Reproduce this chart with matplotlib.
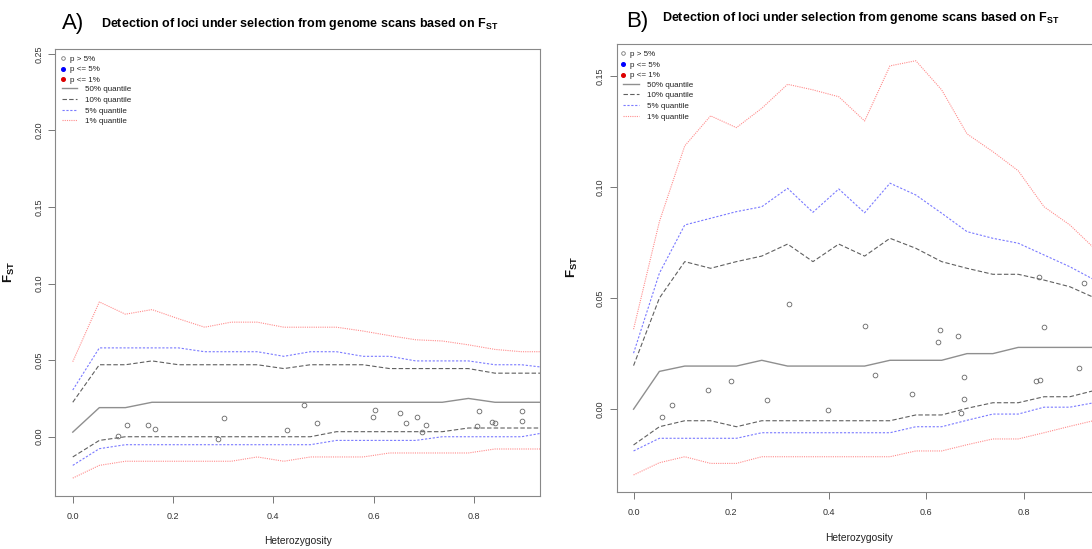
import matplotlib
matplotlib.use("Agg")
from matplotlib import pyplot as plt
from matplotlib.lines import Line2D

plt.rcParams['font.family'] = ['Liberation Sans', 'DejaVu Sans']
plt.rcParams['mathtext.fontset'] = 'custom'
plt.rcParams['mathtext.rm'] = 'Liberation Sans'
plt.rcParams['mathtext.bf'] = 'Liberation Sans:bold'

# heterozygosity bins used for the quantile curves
het_bins = [0.000, 0.053, 0.105, 0.158, 0.211, 0.263, 0.316, 0.368, 0.421, 0.474,
            0.526, 0.579, 0.632, 0.684, 0.737, 0.789, 0.842, 0.895, 0.947]

# --- scan A ---
a_q50 = [0.003, 0.019, 0.019, 0.0225, 0.0225, 0.0225, 0.0225, 0.0225, 0.0225, 0.0225,
         0.0225, 0.0225, 0.0225, 0.0225, 0.0225, 0.025, 0.0225, 0.0225, 0.0225]
a_q10_up = [0.0225, 0.047, 0.047, 0.0495, 0.047, 0.047, 0.047, 0.047, 0.0445, 0.047,
            0.047, 0.047, 0.0445, 0.0445, 0.0445, 0.0445, 0.0415, 0.0415, 0.0415]
a_q10_lo = [-0.0132, -0.0024, 0.0, 0.0, 0.0, 0.0, 0.0, 0.0, 0.0, 0.0,
            0.0033, 0.0033, 0.0033, 0.0033, 0.0033, 0.0057, 0.0057, 0.0057, 0.0057]
a_q05_up = [0.0305, 0.058, 0.058, 0.058, 0.058, 0.0555, 0.0555, 0.0555, 0.0525, 0.0555,
            0.0555, 0.0525, 0.0525, 0.0495, 0.0495, 0.0495, 0.047, 0.047, 0.045]
a_q05_lo = [-0.0187, -0.0078, -0.0052, -0.0052, -0.0052, -0.0052, -0.0052, -0.0052, -0.0052, -0.0052,
            -0.0024, -0.0024, -0.0024, -0.0024, 0.0, 0.0, 0.0, 0.0, 0.003]
a_q01_up = [0.049, 0.088, 0.080, 0.083, 0.077, 0.0715, 0.0748, 0.0748, 0.0715, 0.0715,
            0.0715, 0.069, 0.066, 0.0633, 0.0625, 0.060, 0.057, 0.0555, 0.0555]
a_q01_lo = [-0.027, -0.0187, -0.016, -0.016, -0.016, -0.016, -0.016, -0.0132, -0.016, -0.0132,
            -0.0132, -0.0132, -0.0106, -0.0106, -0.0106, -0.0106, -0.008, -0.008, -0.008]
a_het = [0.090, 0.108, 0.151, 0.165, 0.289, 0.301, 0.428, 0.461, 0.488, 0.603, 0.599,
         0.653, 0.664, 0.686, 0.704, 0.696, 0.810, 0.806, 0.837, 0.842, 0.895, 0.895]
a_fst = [0.0005, 0.0078, 0.0078, 0.0052, -0.0013, 0.012, 0.0044, 0.0205, 0.0091, 0.0172, 0.0127,
         0.0153, 0.0091, 0.0127, 0.0078, 0.0029, 0.0168, 0.007, 0.0098, 0.0089, 0.0168, 0.0104]

# --- scan B ---
b_q50 = [0.0, 0.017, 0.0194, 0.0194, 0.0194, 0.022, 0.0194, 0.0194, 0.0194, 0.0194,
         0.022, 0.022, 0.022, 0.025, 0.025, 0.0278, 0.0278, 0.0278, 0.0278]
b_q10_up = [0.0196, 0.050, 0.0664, 0.0634, 0.0664, 0.0689, 0.0743, 0.0664, 0.0743, 0.0689,
            0.0769, 0.0724, 0.0664, 0.0634, 0.0607, 0.0607, 0.0581, 0.0551, 0.050]
b_q10_lo = [-0.0161, -0.0079, -0.0052, -0.0052, -0.0079, -0.0052, -0.0052, -0.0052, -0.0052, -0.0052,
            -0.0052, -0.0026, -0.0026, 0.0004, 0.0029, 0.0029, 0.0056, 0.0056, 0.0085]
b_q05_up = [0.0252, 0.0612, 0.0829, 0.0859, 0.0889, 0.0911, 0.0994, 0.0886, 0.0991, 0.0884,
            0.1017, 0.0964, 0.0882, 0.0799, 0.0769, 0.0747, 0.0694, 0.0641, 0.058]
b_q05_lo = [-0.0188, -0.0131, -0.0131, -0.0131, -0.0131, -0.0106, -0.0106, -0.0106, -0.0106, -0.0106,
            -0.0106, -0.0079, -0.0079, -0.005, -0.0022, -0.0022, 0.0009, 0.0009, 0.003]
b_q01_up = [0.036, 0.0844, 0.1185, 0.132, 0.1267, 0.1354, 0.1462, 0.1437, 0.1406, 0.1297,
            0.1545, 0.1568, 0.1437, 0.1239, 0.1159, 0.1073, 0.0911, 0.0829, 0.072]
b_q01_lo = [-0.0296, -0.0241, -0.0214, -0.0244, -0.0244, -0.0214, -0.0214, -0.0214, -0.0214, -0.0214,
            -0.0214, -0.0188, -0.0188, -0.016, -0.0134, -0.0134, -0.0106, -0.0077, -0.005]
b_het = [0.058, 0.078, 0.152, 0.199, 0.274, 0.318, 0.398, 0.474, 0.495, 0.572, 0.628,
         0.625, 0.666, 0.677, 0.677, 0.672, 0.842, 0.825, 0.833, 0.913, 0.832, 0.923]
b_fst = [-0.0035, 0.002, 0.0086, 0.0128, 0.0043, 0.0473, -0.0002, 0.0376, 0.0154, 0.0068, 0.0355,
         0.0301, 0.0329, 0.0144, 0.0045, -0.0016, 0.0371, 0.0127, 0.0131, 0.0187, 0.0594, 0.0567]

x_ticks = [0.0, 0.2, 0.4, 0.6, 0.8]
x_ticklabels = ["0.0", "0.2", "0.4", "0.6", "0.8"]

title = r"Detection of loci under selection from genome scans based on $\mathbf{F_{ST}}$"

sty_50 = dict(color='#8f8f8f', lw=1.0, ls='-')
sty_10 = dict(color='#606060', lw=0.8, ls=(0, (4, 2)))
sty_05 = dict(color='#7a7aff', lw=0.8, ls=(0, (2, 1.5)))
sty_01 = dict(color='#ff8c8c', lw=0.8, ls=(0, (1, 1)))


def draw_scan(ax, q50, q10, q05, q01, het, fst, xlim, ylim, yticks, leg_x):
    ax.plot(het_bins, q50, **sty_50)
    for y in q10:
        ax.plot(het_bins, y, **sty_10)
    for y in q05:
        ax.plot(het_bins, y, **sty_05)
    for y in q01:
        ax.plot(het_bins, y, **sty_01)
    ax.plot(het, fst, 'o', ms=3.4, mfc='none', mec='#666666', mew=0.6)

    ax.set_xlim(*xlim)
    ax.set_ylim(*ylim)
    ax.set_xticks(x_ticks)
    ax.set_xticklabels(x_ticklabels)
    ax.set_yticks(yticks)
    ax.set_yticklabels(["%.2f" % v for v in yticks])
    ax.tick_params(axis='both', length=4.8, width=0.7, color='#777777',
                   labelsize=6.5, labelcolor='#333333')
    ax.tick_params(axis='x', pad=6.5)
    ax.tick_params(axis='y', pad=3.5, labelrotation=90)
    for lab in ax.get_yticklabels():
        lab.set_va('center')
    for sp in ax.spines.values():
        sp.set_color('#888888')
        sp.set_linewidth(0.8)

    ax.set_xlabel("Heterozygosity", fontsize=7.4, color='#222222')
    ax.xaxis.set_label_coords(0.5, -0.1)
    ax.xaxis.label.set_va('center')
    ax.set_ylabel(r"$\mathbf{F_{ST}}$", fontsize=9.5, color='#111111')

    pts = [Line2D([], [], ls='none', marker='o', ms=2.6, mfc='none', mec='#777777', mew=0.6),
           Line2D([], [], ls='none', marker='o', ms=2.6, mfc='#0000ff', mec='#0000ff'),
           Line2D([], [], ls='none', marker='o', ms=2.6, mfc='#dd0000', mec='#dd0000')]
    leg1 = ax.legend(pts, ["p > 5%", "p <= 5%", "p <= 1%"], loc='upper left',
                     bbox_to_anchor=(leg_x[0], 0.986), frameon=False, fontsize=5.75,
                     borderpad=0, borderaxespad=0, handlelength=0.8, handletextpad=0.48,
                     labelspacing=0.38, labelcolor='#222222')
    ax.add_artist(leg1)
    lns = [Line2D([], [], **sty_50), Line2D([], [], **sty_10),
           Line2D([], [], **sty_05), Line2D([], [], **sty_01)]
    ax.legend(lns, ["50% quantile", "10% quantile", "5% quantile", "1% quantile"],
              loc='upper left', bbox_to_anchor=(leg_x[1], 0.918), frameon=False,
              fontsize=5.75, borderpad=0, borderaxespad=0, handlelength=1.9,
              handletextpad=1.0, labelspacing=0.38, labelcolor='#222222')


fig = plt.figure(figsize=(10.92, 5.49), dpi=100)

ax_a = fig.add_axes([0.0507, 0.0965, 0.4435, 0.8142])
draw_scan(ax_a, a_q50, [a_q10_up, a_q10_lo], [a_q05_up, a_q05_lo], [a_q01_up, a_q01_lo],
          a_het, a_fst, (-0.0347, 0.9312), (-0.0387, 0.2531),
          [0.0, 0.05, 0.10, 0.15, 0.20, 0.25], (0.0085, 0.0136))
ax_a.yaxis.set_label_coords(-0.0793, 0.501)

ax_b = fig.add_axes([0.5646, 0.1033, 0.4428, 0.816])
draw_scan(ax_b, b_q50, [b_q10_up, b_q10_lo], [b_q05_up, b_q05_lo], [b_q01_up, b_q01_lo],
          b_het, b_fst, (-0.0349, 0.957), (-0.0374, 0.1642),
          [0.0, 0.05, 0.10, 0.15], (0.0074, 0.0141))
ax_b.yaxis.set_label_coords(-0.0755, 0.503)
ax_b.xaxis.set_label_coords(0.5016, -0.101)

# panel letters and headings
fig.text(62 / 1092, 1 - 24 / 549, "A)", fontsize=16, ha='left', va='center')
fig.text(101 / 1092, 1 - 24 / 549, title, fontsize=9, fontweight='bold', ha='left', va='center')
fig.text(626 / 1092, 1 - 22 / 549, "B)", fontsize=16, ha='left', va='center')
fig.text(662 / 1092, 1 - 18.5 / 549, title, fontsize=9, fontweight='bold', ha='left', va='center')

plt.savefig("out.png", dpi=100)
